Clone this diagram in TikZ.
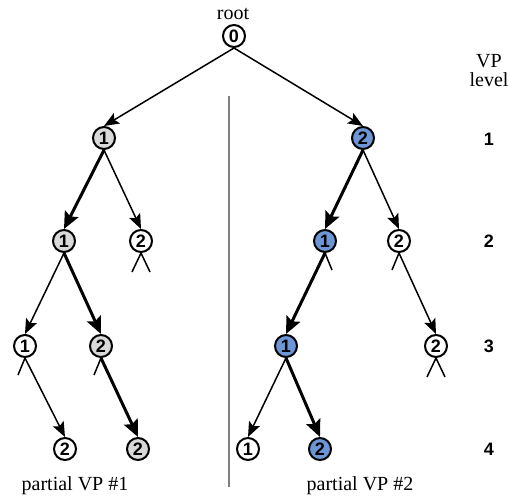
\documentclass[tikz,border=0pt]{standalone}
\usepackage{fontspec}
\setmainfont{Liberation Serif}
\newfontfamily\numfont{Liberation Sans}
\usepackage{tikz}
\usetikzlibrary{arrows.meta}
\definecolor{vpgray}{RGB}{217,217,217}
\definecolor{vpblue}{RGB}{108,150,214}
\tikzset{
  vnode/.style={circle, draw, line width=1pt, minimum size=11pt, inner sep=0pt, fill=white,
    font=\numfont\bfseries\fontsize{9}{10}\selectfont},
  gnode/.style={vnode, fill=vpgray},
  bnode/.style={vnode, fill=vpblue},
  every edge/.style={draw, line width=0.75pt, -{Stealth[length=7.5pt,width=6pt,inset=1.5pt]}},
  heavy/.style={line width=1.5pt, -{Stealth[length=8.5pt,width=7.5pt,inset=1.5pt]}},
  stub/.style={line width=0.75pt},
  lvl/.style={font=\numfont\bfseries\fontsize{9}{10}\selectfont},
  txt/.style={font=\fontsize{10}{12}\selectfont, inner sep=0pt}
}

\begin{document}
\begin{tikzpicture}[x=0.5pt, y=-0.5pt]
  \useasboundingbox (0,0) rectangle (509,499);

  \node[vnode] at (234, 36) (r) {0};
  \node[txt] at (233, 14) (rl) {root};

  % partial VP #1
  \node[gnode] at (104, 138) (a1) {1};
  \node[gnode] at (64, 241) (a2) {1};
  \node[vnode] at (141, 241) (a2b) {2};
  \node[vnode] at (25, 346) (a3) {1};
  \node[gnode] at (101, 346) (a3b) {2};
  \node[vnode] at (65, 449) (a4) {2};
  \node[gnode] at (138, 449) (a4b) {2};

  % partial VP #2
  \node[bnode] at (363, 138) (b1) {2};
  \node[bnode] at (325, 241) (b2) {1};
  \node[vnode] at (399, 241) (b2b) {2};
  \node[bnode] at (286, 346) (b3) {1};
  \node[vnode] at (436, 346) (b3b) {2};
  \node[vnode] at (248, 449) (b4) {1};
  \node[bnode] at (320, 449) (b4b) {2};

  \draw (r.south) edge (a1.north) edge (b1.north);

  \draw (a1.south) edge[heavy] (a2.north) edge (a2b.north);
  \draw (a2.south) edge (a3.north) edge[heavy] (a3b.north);
  \draw (a3.south) edge (a4.north);
  \draw (a3b.south) edge[heavy] (a4b.north);

  \draw (b1.south) edge[heavy] (b2.north) edge (b2b.north);
  \draw (b2.south) edge[heavy] (b3.north);
  \draw (b2b.south) edge (b3b.north);
  \draw (b3.south) edge (b4.north) edge[heavy] (b4b.north);

  % unexplored branches
  \draw[stub] (a2b.south) -- ++(-9,19) (a2b.south) -- ++(9,19);
  \draw[stub] (a3.south) -- ++(-7,17);
  \draw[stub] (a3b.south) -- ++(-7,17);
  \draw[stub] (b2.south) -- ++(7,17);
  \draw[stub] (b2b.south) -- ++(-7,17);
  \draw[stub] (b3b.south) -- ++(-9,19) (b3b.south) -- ++(9,19);

  \draw[gray, line width=0.75pt] (229, 96) -- (229, 487);

  \node[txt] at (489, 61) (vp) {VP};
  \node[txt] at (489, 80) (lv) {level};
  \node[lvl] at (489, 139) (l1) {1};
  \node[lvl] at (489, 241) (l2) {2};
  \node[lvl] at (489, 346) (l3) {3};
  \node[lvl] at (489, 449) (l4) {4};

  \node[txt] at (75, 486) (p1) {partial VP \#1};
  \node[txt] at (360, 486) (p2) {partial VP \#2};
\end{tikzpicture}
\end{document}
